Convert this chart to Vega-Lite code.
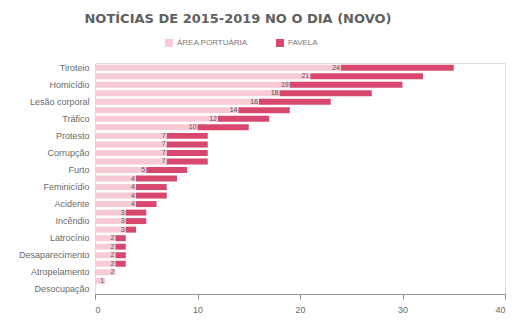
{
  "$schema": "https://vega.github.io/schema/vega-lite/v6.json",
  "autosize": {"type": "none"},
  "width": 410,
  "height": 231,
  "padding": {"left": 95, "top": 63, "right": 7, "bottom": 26},
  "background": "white",
  "title": {
    "text": "NOTÍCIAS DE 2015-2019 NO O DIA (NOVO)",
    "anchor": "middle",
    "frame": "group",
    "dx": -62,
    "offset": 13,
    "font": "DejaVu Sans",
    "fontSize": 13,
    "fontWeight": "bold",
    "color": "#606060"
  },
  "data": {
    "values": [
      {"cat": "Tiroteio", "ÁREA PORTUÁRIA": 24, "FAVELA": 11},
      {"cat": "Assalto", "ÁREA PORTUÁRIA": 21, "FAVELA": 11},
      {"cat": "Homicídio", "ÁREA PORTUÁRIA": 19, "FAVELA": 11},
      {"cat": "Operação policial", "ÁREA PORTUÁRIA": 18, "FAVELA": 9},
      {"cat": "Lesão corporal", "ÁREA PORTUÁRIA": 16, "FAVELA": 7},
      {"cat": "Bala perdida", "ÁREA PORTUÁRIA": 14, "FAVELA": 5},
      {"cat": "Tráfico", "ÁREA PORTUÁRIA": 12, "FAVELA": 5},
      {"cat": "Estupro", "ÁREA PORTUÁRIA": 10, "FAVELA": 5},
      {"cat": "Protesto", "ÁREA PORTUÁRIA": 7, "FAVELA": 4},
      {"cat": "Milícia", "ÁREA PORTUÁRIA": 7, "FAVELA": 4},
      {"cat": "Corrupção", "ÁREA PORTUÁRIA": 7, "FAVELA": 4},
      {"cat": "Sequestro", "ÁREA PORTUÁRIA": 7, "FAVELA": 4},
      {"cat": "Furto", "ÁREA PORTUÁRIA": 5, "FAVELA": 4},
      {"cat": "Violência doméstica", "ÁREA PORTUÁRIA": 4, "FAVELA": 4},
      {"cat": "Feminicídio", "ÁREA PORTUÁRIA": 4, "FAVELA": 3},
      {"cat": "Agressão", "ÁREA PORTUÁRIA": 4, "FAVELA": 3},
      {"cat": "Acidente", "ÁREA PORTUÁRIA": 4, "FAVELA": 2},
      {"cat": "Ameaça", "ÁREA PORTUÁRIA": 3, "FAVELA": 2},
      {"cat": "Incêndio", "ÁREA PORTUÁRIA": 3, "FAVELA": 2},
      {"cat": "Chacina", "ÁREA PORTUÁRIA": 3, "FAVELA": 1},
      {"cat": "Latrocínio", "ÁREA PORTUÁRIA": 2, "FAVELA": 1},
      {"cat": "Vandalismo", "ÁREA PORTUÁRIA": 2, "FAVELA": 1},
      {"cat": "Desaparecimento", "ÁREA PORTUÁRIA": 2, "FAVELA": 1},
      {"cat": "Remoção", "ÁREA PORTUÁRIA": 2, "FAVELA": 1},
      {"cat": "Atropelamento", "ÁREA PORTUÁRIA": 2, "FAVELA": 0},
      {"cat": "Despejo", "ÁREA PORTUÁRIA": 1, "FAVELA": 0},
      {"cat": "Desocupação", "ÁREA PORTUÁRIA": 0, "FAVELA": 0}
    ]
  },
  "encoding": {
    "y": {
      "field": "cat",
      "type": "nominal",
      "sort": null,
      "scale": {"paddingInner": 0.3, "paddingOuter": 0.2},
      "axis": {
        "title": null,
        "values": ["Tiroteio", "Homicídio", "Lesão corporal", "Tráfico", "Protesto", "Corrupção", "Furto", "Feminicídio", "Acidente", "Incêndio", "Latrocínio", "Desaparecimento", "Atropelamento", "Desocupação"],
        "domain": false,
        "ticks": false,
        "labelFont": "Liberation Sans",
        "labelFontSize": 9,
        "labelColor": "#6a6a6a",
        "labelPadding": 6
      }
    }
  },
  "layer": [
    {
      "transform": [{"fold": ["ÁREA PORTUÁRIA", "FAVELA"], "as": ["tipo", "valor"]}],
      "mark": {"type": "bar"},
      "encoding": {
        "x": {
          "field": "valor",
          "type": "quantitative",
          "stack": "zero",
          "scale": {"domain": [0, 40], "nice": false},
          "axis": {
            "title": null,
            "values": [0, 10, 20, 30, 40],
            "grid": false,
            "domainColor": "#999999",
            "tickColor": "#888888",
            "tickSize": 5,
            "labelFont": "Liberation Sans",
            "labelFontSize": 9,
            "labelColor": "#6a6a6a",
            "labelPadding": 6
          }
        },
        "color": {
          "field": "tipo",
          "type": "nominal",
          "scale": {"domain": ["ÁREA PORTUÁRIA", "FAVELA"], "range": ["#f7cad6", "#d8476d"]},
          "legend": {
            "title": null,
            "orient": "none",
            "direction": "horizontal",
            "legendX": 70,
            "legendY": -24,
            "symbolType": "square",
            "symbolSize": 64,
            "symbolStrokeWidth": 0,
            "labelFont": "Liberation Sans",
            "labelFontSize": 8,
            "labelColor": "#777777",
            "columnPadding": 28
          }
        },
        "order": {"field": "tipo", "sort": "descending"}
      }
    },
    {
      "transform": [{"filter": "datum['ÁREA PORTUÁRIA'] > 0"}],
      "mark": {"type": "text", "align": "right", "baseline": "middle", "dx": -1, "font": "Liberation Sans", "fontSize": 7, "color": "#555555"},
      "encoding": {
        "x": {"field": "ÁREA PORTUÁRIA", "type": "quantitative"},
        "text": {"field": "ÁREA PORTUÁRIA", "type": "quantitative"}
      }
    }
  ]
}
